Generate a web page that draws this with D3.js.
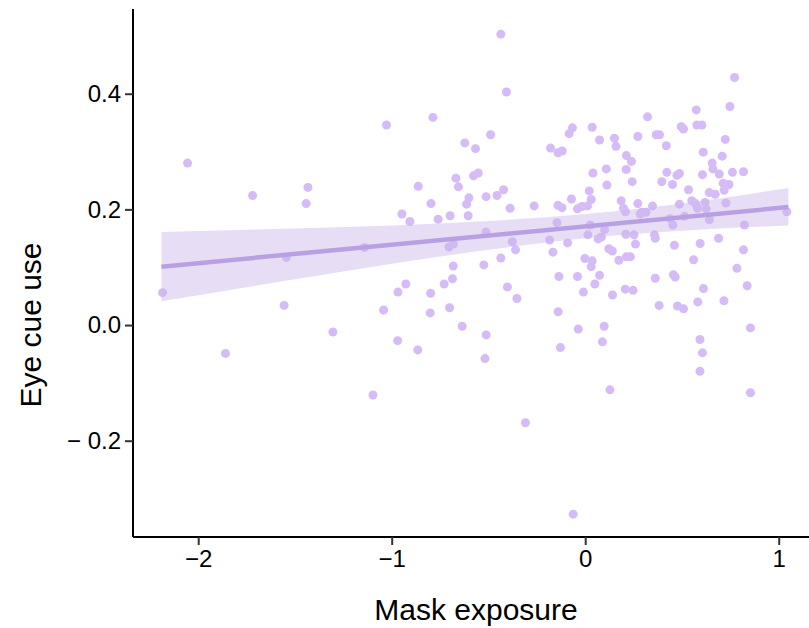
<!DOCTYPE html>
<html>
<head>
<meta charset="utf-8">
<script src="https://cdn.jsdelivr.net/npm/d3@7"></script>
<style>
  body { margin: 0; background: #fff; }
  text { font-family: "Liberation Sans", Arial, Helvetica, sans-serif; }
</style>
</head>
<body>
<div id="canvas"></div>
<script>
// data
var maskExposure = [
  -2.184, -2.055, -1.859, -1.719, -1.556, -1.544, -1.433, -1.442, -1.304, -1.141,
  -1.097, -1.042, -1.027, -0.968, -0.969, -0.947, -0.906, -0.927, -0.865, -0.863,
  -0.797, -0.787, -0.760, -0.799, -0.801, -0.729, -0.686, -0.701, -0.704, -0.681,
  -0.682, -0.698, -0.668, -0.655, -0.622, -0.636, -0.601, -0.613, -0.605, -0.577,
  -0.553, -0.567, -0.513, -0.524, -0.512, -0.512, -0.518, -0.489, -0.456, -0.422,
  -0.436, -0.407, -0.436, -0.402, -0.388, -0.377, -0.360, -0.353, -0.309, -0.264,
  -0.179, -0.141, -0.119, -0.083, -0.066, -0.184, -0.146, -0.167, -0.141, -0.120,
  -0.091, -0.071, -0.040, -0.017, 0.012, -0.136, -0.040, -0.009, 0.050, 0.074,
  -0.140, -0.036, -0.128, -0.062, -0.002, 0.036, 0.031, 0.014, 0.026, 0.067,
  0.036, 0.074, 0.040, 0.021, 0.031,
  0.772, 0.748, 0.574, 0.577, 0.603, 0.322, 0.496, 0.508, 0.151, 0.159,
  0.272, 0.367, 0.384, 0.419, 0.724, 0.610, 0.708, 0.213, 0.239, 0.212,
  0.109, 0.112, 0.243, 0.422, 0.396, 0.451, 0.474, 0.487, 0.606, 0.656,
  0.660, 0.693, 0.761, 0.818, 0.534, 0.641, 0.672, 0.713, 0.743, 0.718,
  0.727, 0.186, 0.198, 0.208, 0.272, 0.293, 0.314, 0.284, 0.348, 0.487,
  0.551, 0.570, 0.580, 0.619, 0.625, 0.513, 0.438, 0.453, 0.642, 1.042,
  0.823, 0.100, 0.083, 0.210, 0.252, 0.260, 0.358, 0.362, 0.461, 0.594,
  0.689, 0.818, 0.122, 0.140, 0.174, 0.213, 0.233, 0.560, 0.784, 0.362,
  0.456, 0.465, 0.141, 0.207, 0.247, 0.611, 0.837, 0.382, 0.477, 0.508,
  0.582, 0.717, 0.098, 0.089, 0.593, 0.606, 0.593, 0.854, 0.128, 0.854
];
var eyeCueUse = [
  0.056, 0.280, -0.049, 0.224, 0.034, 0.117, 0.238, 0.210, -0.012, 0.134,
  -0.121, 0.026, 0.346, 0.057, -0.027, 0.192, 0.179, 0.071, -0.043, 0.240,
  0.210, 0.359, 0.183, 0.055, 0.021, 0.071, 0.080, 0.030, 0.135, 0.140,
  0.102, 0.189, 0.254, 0.239, 0.315, -0.002, 0.220, 0.209, 0.189, 0.258,
  0.263, 0.305, 0.161, 0.104, 0.222, -0.017, -0.058, 0.329, 0.224, 0.234,
  0.503, 0.403, 0.116, 0.066, 0.202, 0.144, 0.130, 0.046, -0.169, 0.206,
  0.306, 0.298, 0.301, 0.331, 0.341, 0.147, 0.177, 0.126, 0.207, 0.203,
  0.142, 0.218, 0.201, 0.205, 0.206, 0.084, 0.084, 0.057, 0.071, 0.086,
  0.023, -0.007, -0.039, -0.327, 0.115, 0.111, 0.101, 0.156, 0.173, 0.149,
  0.342, 0.320, 0.263, 0.232, 0.217,
  0.428, 0.378, 0.372, 0.346, 0.346, 0.360, 0.343, 0.339, 0.323, 0.309,
  0.326, 0.329, 0.329, 0.310, 0.321, 0.299, 0.292, 0.293, 0.283, 0.269,
  0.270, 0.242, 0.248, 0.264, 0.248, 0.243, 0.259, 0.262, 0.260, 0.280,
  0.270, 0.261, 0.264, 0.265, 0.234, 0.229, 0.226, 0.245, 0.243, 0.233,
  0.211, 0.215, 0.202, 0.196, 0.210, 0.195, 0.195, 0.192, 0.206, 0.209,
  0.215, 0.210, 0.202, 0.212, 0.201, 0.188, 0.184, 0.173, 0.182, 0.196,
  0.173, 0.165, 0.152, 0.157, 0.156, 0.140, 0.156, 0.150, 0.138, 0.141,
  0.150, 0.130, 0.132, 0.128, 0.112, 0.118, 0.118, 0.113, 0.098, 0.081,
  0.087, 0.083, 0.052, 0.062, 0.060, 0.063, 0.068, 0.034, 0.033, 0.028,
  0.040, 0.042, -0.002, -0.029, -0.025, -0.048, -0.080, -0.005, -0.112, -0.117
];

// fitted line and its confidence band (read at a few x positions)
var fitX = [-2.19, 1.05];
var fitY = [0.101, 0.204];
var bandX = [-2.19, -1.5, -1.0, -0.5, 0.0, 0.5, 1.05];
var bandLow = [0.041, 0.079, 0.106, 0.130, 0.150, 0.163, 0.172];
var bandHigh = [0.161, 0.167, 0.172, 0.180, 0.192, 0.210, 0.237];

var xTicks = [-2, -1, 0, 1];
var yTicks = [-0.2, 0.0, 0.2, 0.4];
var xTitle = "Mask exposure";
var yTitle = "Eye cue use";

(function() {
  var width = 809, height = 628;
  var plotLeft = 133, plotTop = 9, plotBottom = 537;
  var pointColor = "#d5bcf6";
  var lineColor = "#b9a0e2";
  var bandColor = "#c9b5ec";

  var svg = d3.select("#canvas").append("svg")
    .attr("width", width).attr("height", height);

  var x = d3.scaleLinear().domain([-2.337, 1.2]).range([plotLeft, plotLeft + 3.537 * 193.5]);
  var y = d3.scaleLinear().domain([-0.3665, 0.5465]).range([plotBottom, plotTop]);

  var minus = function(v, gap) {
    var s = d3.format(gap ? ".1f" : "d")(Math.abs(v));
    return v < 0 ? "\u2212" + (gap ? " " : "") + s : s;
  };

  // points
  var pts = d3.range(maskExposure.length).map(function(i) {
    return [maskExposure[i], eyeCueUse[i]];
  });
  svg.append("g").selectAll("circle").data(pts).enter().append("circle")
    .attr("cx", function(d) { return x(d[0]); })
    .attr("cy", function(d) { return y(d[1]); })
    .attr("r", 4.5)
    .attr("fill", pointColor);

  // confidence band
  var band = d3.range(bandX.length).map(function(i) {
    return [bandX[i], bandLow[i], bandHigh[i]];
  });
  svg.append("path").datum(band)
    .attr("d", d3.area().curve(d3.curveMonotoneX)
      .x(function(d) { return x(d[0]); })
      .y0(function(d) { return y(d[1]); })
      .y1(function(d) { return y(d[2]); }))
    .attr("fill", bandColor)
    .attr("fill-opacity", 0.45);

  // fitted line
  svg.append("path").datum(d3.zip(fitX, fitY))
    .attr("d", d3.line()
      .x(function(d) { return x(d[0]); })
      .y(function(d) { return y(d[1]); }))
    .attr("fill", "none")
    .attr("stroke", lineColor)
    .attr("stroke-width", 4.5);

  // axes
  var xAxis = svg.append("g").attr("transform", "translate(0," + plotBottom + ")")
    .call(d3.axisBottom(x).tickValues(xTicks).tickSize(8).tickPadding(5)
      .tickFormat(function(d) { return minus(d, false); }));
  var yAxis = svg.append("g").attr("transform", "translate(" + plotLeft + ",0)")
    .call(d3.axisLeft(y).tickValues(yTicks).tickSize(8).tickPadding(4)
      .tickFormat(function(d) { return minus(d, true); }));

  [xAxis, yAxis].forEach(function(ax) {
    ax.attr("font-size", null).attr("font-family", null);
    ax.select(".domain").attr("stroke", "#000").attr("stroke-width", 2);
    ax.selectAll(".tick line").attr("stroke", "#333").attr("stroke-width", 2);
    ax.selectAll(".tick text").attr("fill", "#000")
      .style("font-size", "24px");
  });
  xAxis.select(".domain").attr("d", "M" + plotLeft + ",0H" + width);
  yAxis.select(".domain").attr("d", "M0," + plotTop + "V" + plotBottom);

  // titles
  svg.append("text").text(xTitle)
    .attr("x", 476).attr("y", 620)
    .attr("text-anchor", "middle")
    .style("font-size", "30px");

  svg.append("text").text(yTitle)
    .attr("transform", "translate(41,325) rotate(-90)")
    .attr("text-anchor", "middle")
    .style("font-size", "30px");
})();
</script>
</body>
</html>
